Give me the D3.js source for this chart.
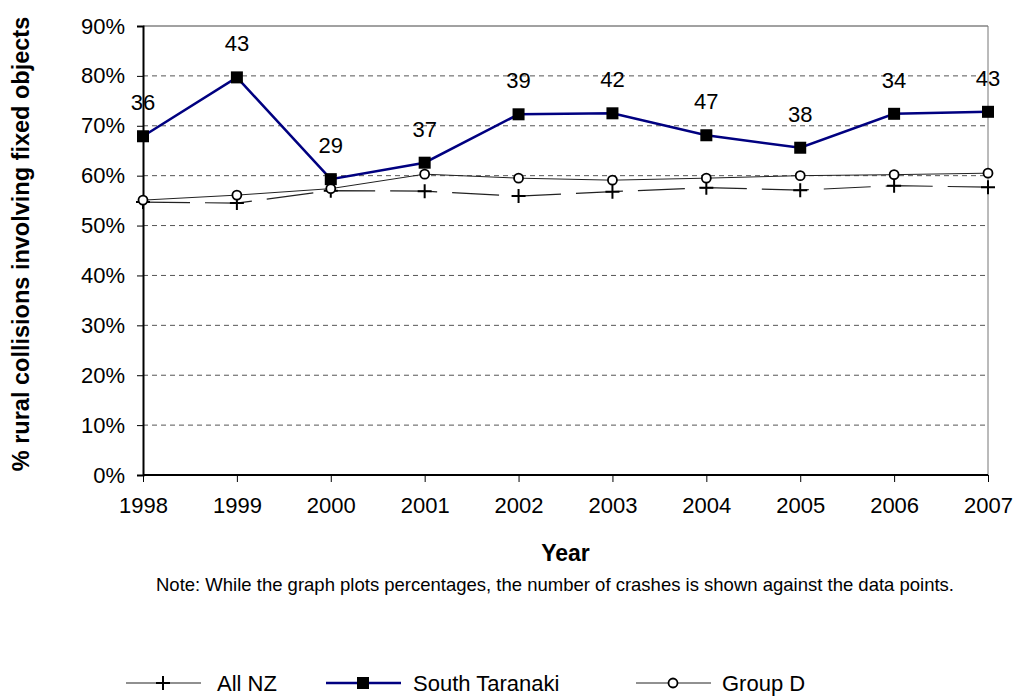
<!DOCTYPE html>
<html><head><meta charset="utf-8">
<script src="https://cdn.jsdelivr.net/npm/d3@7"></script>
<style>body{margin:0;background:#fff;}svg{display:block;font-family:"Liberation Sans",Arial,sans-serif;}</style>
</head><body>
<svg id="c" width="1018" height="697"></svg>
<script>
const years = [1998,1999,2000,2001,2002,2003,2004,2005,2006,2007];
const allNZ = [54.7,54.5,57.0,56.9,55.9,56.8,57.6,57.1,58.0,57.7];
const southTaranaki = [67.9,79.7,59.3,62.6,72.3,72.5,68.1,65.6,72.4,72.8];
const groupD = [55.1,56.1,57.4,60.3,59.5,59.1,59.5,60.0,60.2,60.5];
const crashCounts = [36,43,29,37,39,42,47,38,34,43];
const yTicks = [0,10,20,30,40,50,60,70,80,90];
const seriesNames = ["All NZ","South Taranaki","Group D"];

const svg = d3.select("#c");
const FF = "Liberation Sans, Arial, sans-serif";
const L=143,R=988,T=26,B=475;
const x = d3.scalePoint().domain(years).range([L,R]);
const y = d3.scaleLinear().domain([0,90]).range([B,T]);

// gridlines
svg.append("g").selectAll("line").data(yTicks.filter(d=>d>0&&d<90)).join("line")
  .attr("x1",L).attr("x2",R).attr("y1",d=>y(d)).attr("y2",d=>y(d))
  .attr("stroke","#555").attr("stroke-width",1).attr("stroke-dasharray","5,4");
// top and right border
svg.append("line").attr("x1",L).attr("x2",R).attr("y1",T).attr("y2",T).attr("stroke","#444").attr("stroke-width",1);
svg.append("line").attr("x1",R).attr("x2",R).attr("y1",T).attr("y2",B).attr("stroke","#777").attr("stroke-width",1);

// y axis
const ya = svg.append("g").attr("transform",`translate(${L},0)`)
  .call(d3.axisLeft(y).tickValues(yTicks).tickFormat(d=>d+"%").tickSize(6).tickPadding(12));
ya.attr("font-size",null).attr("font-family",null);
ya.select(".domain").attr("stroke","#000").attr("stroke-width",2);
ya.selectAll(".tick line").attr("stroke","#000");
ya.selectAll("text").style("font-size","22px").attr("fill","#000").style("font-family",FF);

// x axis
const xa = svg.append("g").attr("transform",`translate(0,${B})`)
  .call(d3.axisBottom(x).tickSize(7).tickPadding(15));
xa.attr("font-size",null).attr("font-family",null);
xa.select(".domain").attr("stroke","#000").attr("stroke-width",2).attr("d",`M${L},0H${R}`);
xa.selectAll(".tick line").attr("stroke","#000");
xa.selectAll("text").style("font-size","22px").attr("fill","#000").style("font-family",FF);

const line = d3.line().x((d,i)=>x(years[i])).y(d=>y(d));

// Group D
svg.append("path").datum(groupD).attr("d",line).attr("fill","none").attr("stroke","#222").attr("stroke-width",1);
// All NZ
svg.append("path").datum(allNZ).attr("d",line).attr("fill","none").attr("stroke","#222").attr("stroke-width",1.2).attr("stroke-dasharray","47,15");
// South Taranaki
svg.append("path").datum(southTaranaki).attr("d",line).attr("fill","none").attr("stroke","#000080").attr("stroke-width",2.5);

function plus(g,cx,cy){
  g.append("path").attr("d",`M${cx-7},${cy}H${cx+7}M${cx},${cy-7}V${cy+7}`).attr("stroke","#000").attr("stroke-width",2).attr("fill","none");
}
function circ(g,cx,cy){
  g.append("circle").attr("cx",cx).attr("cy",cy).attr("r",4.5).attr("fill","#fff").attr("stroke","#000").attr("stroke-width",1.8);
}
function sq(g,cx,cy){
  g.append("rect").attr("x",cx-6).attr("y",cy-6).attr("width",12).attr("height",12).attr("fill","#000");
}
const mk = svg.append("g");
allNZ.forEach((v,i)=>plus(mk,x(years[i]),y(v)));
groupD.forEach((v,i)=>circ(mk,x(years[i]),y(v)));
southTaranaki.forEach((v,i)=>sq(mk,x(years[i]),y(v)));

// data labels
svg.append("g").selectAll("text").data(crashCounts).join("text")
  .attr("x",(d,i)=>x(years[i])).attr("y",(d,i)=>y(southTaranaki[i])-26)
  .attr("text-anchor","middle").style("font-size","22px").attr("fill","#000").text(d=>d);

// titles
svg.append("text").attr("x",(L+R)/2).attr("y",561).attr("text-anchor","middle").style("font-size","23px").attr("font-weight","bold").text("Year");
svg.append("text").attr("transform",`translate(29,244) rotate(-90)`).attr("text-anchor","middle").style("font-size","23.5px").attr("font-weight","bold").text("% rural collisions involving fixed objects");
svg.append("text").attr("x",555).attr("y",591).attr("text-anchor","middle").style("font-size","18.5px").text("Note: While the graph plots percentages, the number of crashes is shown against the  data points.");

// legend
const lg = svg.append("g");
const ly = 683;
// All NZ
lg.append("line").attr("x1",126).attr("x2",201).attr("y1",ly).attr("y2",ly).attr("stroke","#222").attr("stroke-width",1.2).attr("stroke-dasharray","32,12");
plus(lg,163,ly);
lg.append("text").attr("x",217).attr("y",ly+8).style("font-size","22px").text(seriesNames[0]);
// South Taranaki
lg.append("line").attr("x1",326).attr("x2",401).attr("y1",ly).attr("y2",ly).attr("stroke","#000080").attr("stroke-width",2.5);
sq(lg,363,ly);
lg.append("text").attr("x",413).attr("y",ly+8).style("font-size","22px").text(seriesNames[1]);
// Group D
lg.append("line").attr("x1",636).attr("x2",711).attr("y1",ly).attr("y2",ly).attr("stroke","#222").attr("stroke-width",1);
circ(lg,673,ly);
lg.append("text").attr("x",722).attr("y",ly+8).style("font-size","22px").text(seriesNames[2]);
</script>
</body></html>
